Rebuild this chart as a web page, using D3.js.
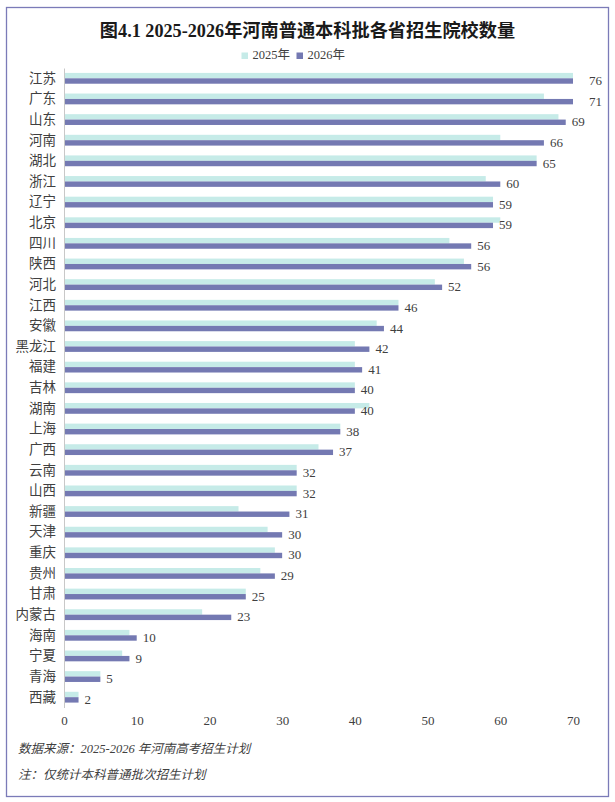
<!DOCTYPE html>
<html><head><meta charset="utf-8">
<script src="https://cdn.jsdelivr.net/npm/d3@7"></script>
<style>body{margin:0;background:#fff}svg{display:block}</style>
</head><body><svg id="c" width="615" height="802"></svg>
<script>
const provinces = ["江苏","广东","山东","河南","湖北","浙江","辽宁","北京","四川","陕西","河北","江西","安徽","黑龙江","福建","吉林","湖南","上海","广西","云南","山西","新疆","天津","重庆","贵州","甘肃","内蒙古","海南","宁夏","青海","西藏"];
const values2025 = [74,66,68,60,65,58,59,60,53,55,51,46,43,40,40,40,42,38,35,32,32,24,28,29,27,25,19,9,8,5,2];
const values2026 = [76,71,69,66,65,60,59,59,56,56,52,46,44,42,41,40,40,38,37,32,32,31,30,30,29,25,23,10,9,5,2];
const seriesNames = ["2025年","2026年"];
const xTicks = [0,10,20,30,40,50,60,70];
const titleText = "图4.1 2025-2026年河南普通本科批各省招生院校数量";
const notes = ["数据来源：2025-2026 年河南高考招生计划","注：仅统计本科普通批次招生计划"];

const colors = {"2025年":"#c6ebe8","2026年":"#7479b2"};
const textColor = "#404040";
const fontFam = "'Liberation Serif','Noto Sans CJK SC',serif";

const svg = d3.select("#c");
svg.append("rect").attr("x",6.5).attr("y",7.5).attr("width",602).attr("height",789)
  .attr("fill","#fff").attr("stroke","#7b7bb8").attr("stroke-width",1.3);

svg.append("text").attr("x",307.5).attr("y",37).attr("text-anchor","middle")
  .attr("font-family",fontFam).attr("font-weight","bold").attr("font-size",18.2)
  .attr("fill","#1a1a1a").text(titleText);

const xMax = 70;
const x = d3.scaleLinear().domain([0,xMax]).range([64,573]);
const y = d3.scaleBand().domain(provinces).range([68,707.5]).padding(0);
const ySub = d3.scaleBand().domain(seriesNames).range([-5.4,5.4]).padding(0);

// legend
const leg = svg.append("g");
const legX = [241.5, 296.5];
seriesNames.forEach((s,i)=>{
  leg.append("rect").attr("x",legX[i]).attr("y",52.5).attr("width",6.5).attr("height",6.5).attr("fill",colors[s]);
  leg.append("text").attr("x",legX[i]+11).attr("y",56).attr("dominant-baseline","middle")
    .attr("font-family",fontFam).attr("font-size",12.5).attr("fill",textColor).text(s);
});

const rows = provinces.map((p,i)=>({p, v:[values2025[i], values2026[i]]}));
const g = svg.append("g");
rows.forEach(r=>{
  const cy = y(r.p) + y.bandwidth()/2;
  seriesNames.forEach((s,j)=>{
    const v = Math.min(r.v[j], xMax);
    g.append("rect").attr("x",x(0)).attr("y",cy+ySub(s)).attr("width",x(v)-x(0))
      .attr("height",ySub.bandwidth()).attr("fill",colors[s]);
  });
  const v26 = r.v[1];
  const lx = x(Math.min(v26,xMax)) + (v26 > xMax ? 16 : 6);
  g.append("text").attr("x",lx).attr("y",cy+ySub("2026年")+ySub.bandwidth()/2+1)
    .attr("dominant-baseline","middle").attr("font-family",fontFam).attr("font-size",13)
    .attr("fill",textColor).text(v26);
});

// y axis
const yAxis = d3.axisLeft(y).tickSize(0).tickPadding(8);
const ya = svg.append("g").attr("transform",`translate(${x(0)},0)`).call(yAxis);
ya.select(".domain").attr("stroke","#c8c8c8").attr("stroke-width",1);
ya.selectAll("text").attr("font-family",fontFam).attr("font-size",13.5).attr("fill",textColor);

// x tick labels
const xAxis = d3.axisBottom(x).tickValues(xTicks).tickSize(0).tickPadding(0);
const xa = svg.append("g").attr("transform","translate(0,716)").call(xAxis);
xa.select(".domain").remove();
xa.selectAll("text").attr("font-family",fontFam).attr("font-size",13).attr("fill",textColor);

// notes
notes.forEach((n,i)=>{
  svg.append("text").attr("x",18).attr("y",750+i*26).attr("dominant-baseline","middle")
    .attr("font-family",fontFam).attr("font-style","italic").attr("font-size",12.5)
    .attr("fill",textColor).text(n);
});
</script></body></html>
